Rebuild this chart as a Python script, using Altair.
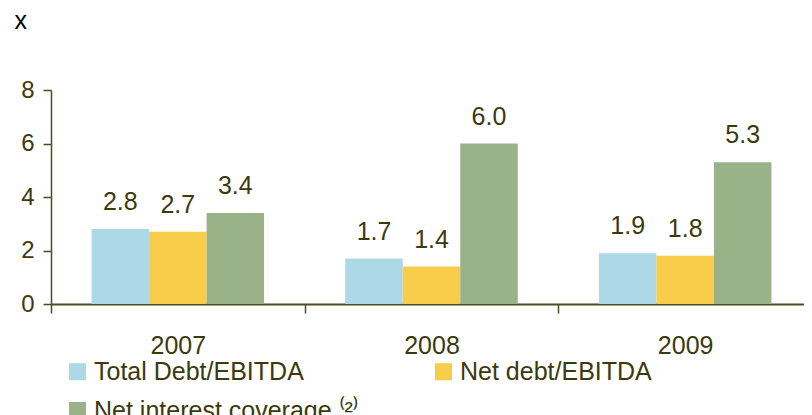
import altair as alt
import pandas as pd

years = ["2007", "2008", "2009"]
series = ["Total Debt/EBITDA", "Net debt/EBITDA", "Net interest coverage"]
total_debt = [2.8, 1.7, 1.9]
net_debt = [2.7, 1.4, 1.8]
interest_cov = [3.4, 6.0, 5.3]
colors = ["#ADD8E6", "#F7CD4A", "#9AB287"]
y_ticks = [0, 2, 4, 6, 8]

rows = []
for i, y in enumerate(years):
    for s, vals in zip(series, [total_debt, net_debt, interest_cov]):
        rows.append({"year": y, "series": s, "value": vals[i], "label": f"{vals[i]:.1f}"})
df = pd.DataFrame(rows)

# legend fills column by column: order so that rows read Total | Net debt / Net interest
legend_order = [series[0], series[2], series[1]]
legend_colors = [colors[0], colors[2], colors[1]]

FONT = "Liberation Sans"
TXT = "#3A3A0C"
AX = "#4D4A1E"

x_enc = alt.X("year:N", sort=years, title=None,
              scale=alt.Scale(paddingInner=0.32, paddingOuter=0.16, range=[0, 761]),
              axis=alt.Axis(labelAngle=0, labelFontSize=25, labelColor=TXT, labelFont=FONT,
                            domainColor=AX, domainWidth=2, tickColor=AX, tickWidth=1.5,
                            tickSize=9, tickOffset=-127, labelOffset=127, labelPadding=20))
xoff = alt.XOffset("series:N", sort=series)

y_axis = alt.Axis(values=y_ticks, title="x", titleAngle=0, titleAlign="left",
                  titleX=-37, titleY=-62, titleBaseline="alphabetic",
                  titleFontSize=25, titleFont=FONT, titleFontWeight="normal",
                  titleColor="#000000", grid=False,
                  labelFontSize=24, labelColor=TXT, labelFont=FONT,
                  domainColor=AX, domainWidth=1.5, tickColor=AX, tickWidth=1.5,
                  tickSize=8, labelPadding=9)

bars = alt.Chart(df).mark_bar().encode(
    x=x_enc,
    xOffset=xoff,
    y=alt.Y("value:Q", scale=alt.Scale(domain=[0, 8]), axis=y_axis),
    color=alt.Color("series:N",
                    scale=alt.Scale(domain=legend_order, range=legend_colors),
                    legend=alt.Legend(title=None, orient="none", legendX=14, legendY=269,
                                      padding=0, columns=2, columnPadding=72, rowPadding=13,
                                      symbolType="square", symbolSize=290,
                                      symbolStrokeWidth=0, labelFontSize=25, labelOffset=4,
                                      labelFont=FONT, labelColor=TXT, labelLimit=400,
                                      labelExpr="datum.label == 'Net interest coverage' ? 'Net interest coverage ⁽²⁾' : datum.label")),
)

labels = alt.Chart(df).mark_text(baseline="bottom", dy=-14, fontSize=25, font=FONT, color=TXT).encode(
    x=alt.X("year:N", sort=years),
    xOffset=xoff,
    y=alt.Y("value:Q"),
    text="label:N",
)

chart = alt.layer(bars, labels).properties(
    width=753, height=214, autosize="none", background="white",
    padding={"left": 43, "top": 82, "right": 0, "bottom": 111},
).configure_view(stroke=None).configure_axis(grid=False)

chart.save("out.html", embed_options={"renderer": "svg", "actions": False})
